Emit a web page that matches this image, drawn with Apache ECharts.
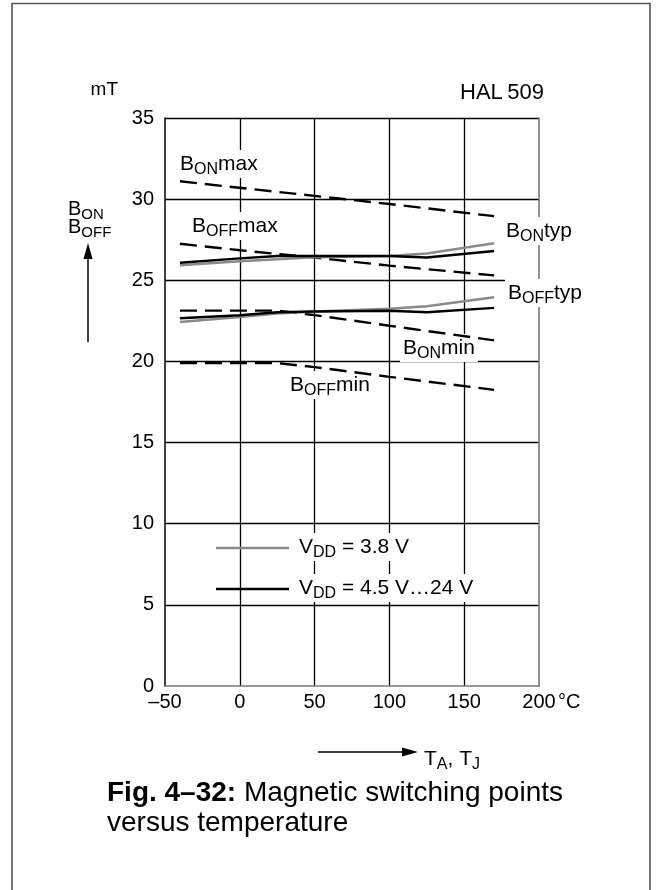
<!DOCTYPE html>
<html>
<head>
<meta charset="utf-8">
<script src="https://cdn.jsdelivr.net/npm/echarts@6/dist/echarts.min.js"></script>
<style>
html,body{margin:0;padding:0;background:#fff;}
#c{width:658px;height:890px;}
</style>
</head>
<body>
<div id="c"></div>
<script>
// ---- data ----
var xTicks = [-50, 0, 50, 100, 150, 200];
var yTicks = [0, 5, 10, 15, 20, 25, 30, 35];
var bOnMax  = [[-40, 31.1], [25, 30.45], [100, 29.7], [170, 28.95]];
var bOffMax = [[-40, 27.25], [0, 26.85], [50, 26.4], [100, 25.9], [170, 25.3]];
var bOnMin  = [[-40, 23.13], [25, 23.13], [50, 22.85], [100, 22.2], [170, 21.3]];
var bOffMin = [[-40, 19.9], [25, 19.9], [50, 19.65], [100, 19.05], [170, 18.25]];
var bOnTyp38  = [[-40, 25.93], [0, 26.18], [50, 26.42], [100, 26.5], [125, 26.65], [170, 27.28]];
var bOnTyp45  = [[-40, 26.08], [0, 26.35], [25, 26.5], [100, 26.5], [125, 26.4], [170, 26.8]];
var bOffTyp38 = [[-40, 22.43], [0, 22.74], [25, 22.95], [50, 23.07], [100, 23.24], [125, 23.4], [170, 23.96]];
var bOffTyp45 = [[-40, 22.66], [0, 22.84], [25, 23.03], [50, 23.07], [100, 23.13], [125, 23.03], [170, 23.3]];

var FONT = "'Liberation Sans', Arial, Helvetica, sans-serif";
var GRAY = '#8a8a8a';
var subRich = { s: { fontSize: 16, fontFamily: FONT, padding: [12, 0, 0, 0], fill: '#000' } };

function dashed(name, data) {
  return { name: name, type: 'line', data: data, showSymbol: false, silent: true,
    lineStyle: { color: '#000', width: 2.4, type: [17, 8] }, z: 3 };
}
function solid(name, data, color) {
  return { name: name, type: 'line', data: data, showSymbol: false, silent: true,
    lineStyle: { color: color, width: 2.5 }, z: 4 };
}
function label(x, y, txt) {
  return { type: 'text', x: x, y: y, z: 1,
    style: { text: txt, rich: subRich, fontSize: 21, fontFamily: FONT, fill: '#000',
      backgroundColor: '#fff', padding: [0, 3, 0, 3], verticalAlign: 'top' } };
}

var chart = echarts.init(document.getElementById('c'), null, { renderer: 'canvas' });
chart.setOption({
  animation: false,
  backgroundColor: '#fff',
  grid: { left: 165, top: 118, width: 374, height: 568, containLabel: false },
  xAxis: {
    type: 'value', min: xTicks[0], max: xTicks[xTicks.length - 1], interval: 50,
    axisLine: { show: true, onZero: false, lineStyle: { color: '#777', width: 1.6 } },
    axisTick: { show: false },
    splitLine: { show: true, showMinLine: false, showMaxLine: false, lineStyle: { color: '#000', width: 1.3 } },
    axisLabel: { margin: 6, fontSize: 20, fontFamily: FONT, color: '#000',
      formatter: function (v) { return v < 0 ? '\u2013' + Math.abs(v) : String(v); } }
  },
  yAxis: [{
    type: 'value', min: yTicks[0], max: yTicks[yTicks.length - 1], interval: 5,
    axisLine: { show: true, onZero: false, lineStyle: { color: '#000', width: 1.5 } },
    axisTick: { show: false },
    splitLine: { show: true, showMinLine: false, lineStyle: { color: '#000', width: 1.3 } },
    axisLabel: { margin: 11, fontSize: 20, fontFamily: FONT, color: '#000' }
  }, {
    type: 'value', position: 'right', min: 0, max: 35, interval: 5,
    axisLine: { show: true, onZero: false, lineStyle: { color: '#777', width: 1.6 } },
    axisTick: { show: false }, axisLabel: { show: false }, splitLine: { show: false }
  }],
  series: [
    dashed('BONmax', bOnMax),
    dashed('BOFFmax', bOffMax),
    dashed('BONmin', bOnMin),
    dashed('BOFFmin', bOffMin),
    solid('BONtyp 3.8V', bOnTyp38, GRAY),
    solid('BOFFtyp 3.8V', bOffTyp38, GRAY),
    solid('BONtyp 4.5-24V', bOnTyp45, '#000'),
    solid('BOFFtyp 4.5-24V', bOffTyp45, '#000')
  ],
  graphic: [
    // outer frame
    { type: 'rect', shape: { x: 12, y: 3.5, width: 638, height: 900 }, z: 0,
      style: { fill: 'none', stroke: '#555', lineWidth: 1.6 } },
    // units / title
    { type: 'text', x: 118, y: 90, style: { text: 'mT', fontSize: 19, fontFamily: FONT, fill: '#000', align: 'right', verticalAlign: 'middle' } },
    { type: 'text', x: 460, y: 93, style: { text: 'HAL\u2009509', fontSize: 22, fontFamily: FONT, fill: '#000', align: 'left', verticalAlign: 'middle' } },
    { type: 'text', x: 558, y: 702, style: { text: '\u00b0C', fontSize: 20, fontFamily: FONT, fill: '#000', align: 'left', verticalAlign: 'middle' } },
    // y axis name with arrow
    { type: 'text', x: 68, y: 200, style: { text: 'B{s|ON}\nB{s|OFF}', rich: { s: { fontSize: 15, fontFamily: FONT, padding: [12, 0, 0, 0] } }, fontSize: 20, fontFamily: FONT, fill: '#000', lineHeight: 18, verticalAlign: 'top' } },
    { type: 'line', shape: { x1: 88, y1: 342, x2: 88, y2: 254 }, style: { stroke: '#000', lineWidth: 1.5 } },
    { type: 'polygon', shape: { points: [[88, 243], [83.5, 259], [92.5, 259]] }, style: { fill: '#000' } },
    // x axis name with arrow
    { type: 'line', shape: { x1: 318, y1: 752, x2: 406, y2: 752 }, style: { stroke: '#000', lineWidth: 1.5 } },
    { type: 'polygon', shape: { points: [[418, 752], [402, 747.5], [402, 756.5]] }, style: { fill: '#000' } },
    { type: 'text', x: 424, y: 745, style: { text: 'T{s|A}, T{s|J}', rich: { s: { fontSize: 16, fontFamily: FONT, padding: [12, 0, 0, 0] } }, fontSize: 21, fontFamily: FONT, fill: '#000', verticalAlign: 'top' } },
    // curve labels
    label(177, 150, 'B{s|ON}max'),
    label(189, 212, 'B{s|OFF}max'),
    label(503, 217, 'B{s|ON}typ'),
    label(505, 279, 'B{s|OFF}typ'),
    label(400, 334, 'B{s|ON}min'),
    label(287, 371, 'B{s|OFF}min'),
    // legend
    { type: 'line', shape: { x1: 216, y1: 548, x2: 289, y2: 548 }, z: 40, style: { stroke: GRAY, lineWidth: 2.5 } },
    { type: 'line', shape: { x1: 216, y1: 589, x2: 289, y2: 589 }, z: 40, style: { stroke: '#000', lineWidth: 2.5 } },
    label(296, 533, 'V{s|DD} = 3.8 V'),
    label(296, 574, 'V{s|DD} = 4.5 V\u202624 V'),
    // caption
    { type: 'text', x: 107, y: 808, style: { text: '{b|Fig. 4\u201332:} Magnetic switching points\nversus temperature',
      rich: { b: { fontWeight: 'bold', fontSize: 28, fontFamily: FONT, fill: '#000' } },
      fontSize: 28, fontFamily: FONT, fill: '#000', lineHeight: 30, verticalAlign: 'middle' } }
  ]
});
</script>
</body>
</html>
